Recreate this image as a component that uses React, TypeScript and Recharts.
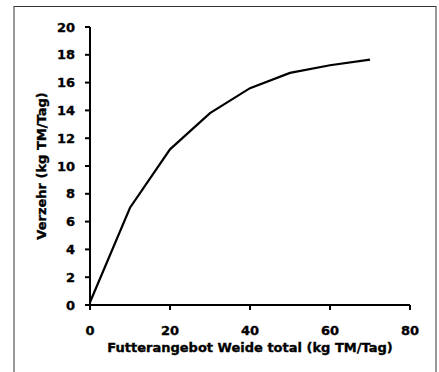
import React from "react";
import { LineChart, Line, XAxis, YAxis } from "recharts";

const angebot = [0, 10, 20, 30, 40, 50, 60, 70];
const verzehr = [0.2, 7.0, 11.2, 13.8, 15.6, 16.7, 17.25, 17.65];
const xTicks = [0, 20, 40, 60, 80];
const yTicks = [0, 2, 4, 6, 8, 10, 12, 14, 16, 18, 20];

const data = angebot.map((a, i) => ({ a, v: verzehr[i] }));

const FONT = "'DejaVu Sans', sans-serif";
const textStyle = { fontFamily: FONT, fontSize: 13, fontWeight: "bold", fill: "#000", stroke: "#000", strokeWidth: 0.35 };

export default function App() {
  return (
    <div style={{ position: "absolute", left: 0, top: 0, width: 439, height: 372, overflow: "hidden", background: "#fff" }}>
      <div
        style={{
          position: "absolute",
          left: 13,
          top: 6,
          width: 420,
          height: 400,
          borderTop: "1px solid #333",
          borderLeft: "2px solid #999",
          borderRight: "2px solid #999",
        }}
      />
      <div style={{ position: "absolute", left: 0, top: 0 }}>
        <LineChart width={439} height={372} data={data} margin={{ top: 27, right: 29, bottom: 0, left: 0 }}>
          <XAxis
            dataKey="a"
            type="number"
            domain={[0, 80]}
            ticks={xTicks}
            height={67}
            tick={textStyle}
            tickSize={5}
            tickMargin={16}
            axisLine={{ stroke: "#000", strokeWidth: 2 }}
            tickLine={{ stroke: "#000", strokeWidth: 2 }}
            label={{
              value: "Futterangebot Weide total (kg TM/Tag)",
              position: "insideTop",
              offset: 38,
              style: textStyle,
            }}
          />
          <XAxis
            xAxisId="top"
            orientation="top"
            type="number"
            domain={[0, 80]}
            height={0}
            tick={false}
            tickLine={false}
            axisLine={{ stroke: "#000", strokeWidth: 2 }}
          />
          <YAxis
            type="number"
            domain={[0, 20]}
            ticks={yTicks}
            width={90}
            tick={textStyle}
            tickSize={5}
            tickMargin={10}
            axisLine={{ stroke: "#000", strokeWidth: 2 }}
            tickLine={{ stroke: "#000", strokeWidth: 2 }}
            label={{
              value: "Verzehr (kg TM/Tag)",
              angle: -90,
              position: "insideLeft",
              offset: 41,
              style: { ...textStyle, textAnchor: "middle" },
            }}
          />
          <YAxis
            yAxisId="right"
            orientation="right"
            type="number"
            domain={[0, 20]}
            width={0}
            tick={false}
            tickLine={false}
            axisLine={{ stroke: "#000", strokeWidth: 2 }}
          />
          <Line
            dataKey="v"
            type="linear"
            stroke="#000"
            strokeWidth={2.2}
            dot={false}
            isAnimationActive={false}
          />
        </LineChart>
      </div>
    </div>
  );
}
